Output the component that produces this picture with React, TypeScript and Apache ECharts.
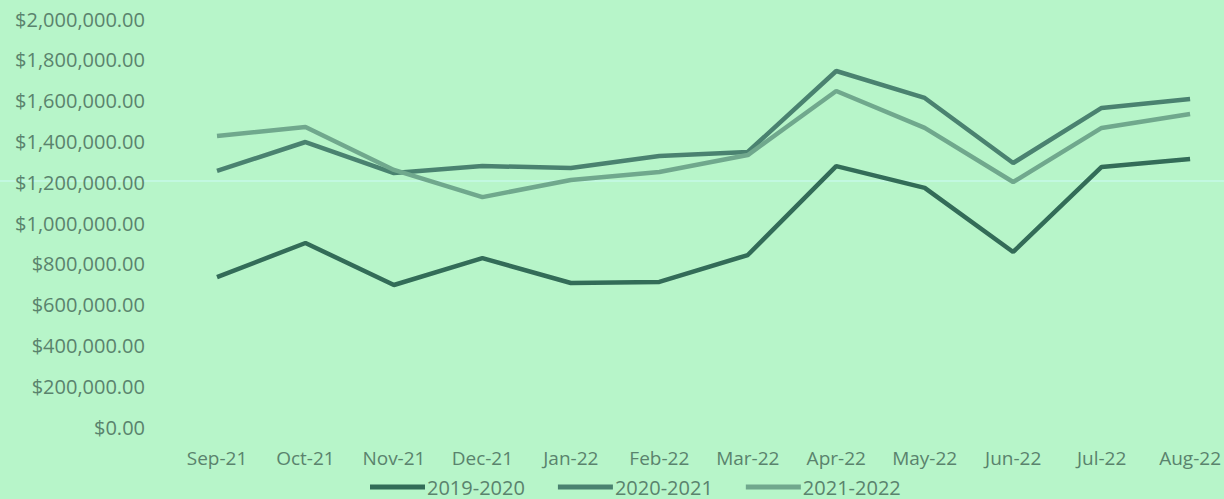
import React, { useEffect, useRef } from "react";
import * as echarts from "echarts";

const categories = ["Sep-21", "Oct-21", "Nov-21", "Dec-21", "Jan-22", "Feb-22", "Mar-22", "Apr-22", "May-22", "Jun-22", "Jul-22", "Aug-22"];
const series2019 = [735000, 902000, 696000, 828000, 706000, 711000, 843000, 1279000, 1172000, 858000, 1275000, 1314000];
const series2020 = [1255000, 1397000, 1245000, 1279000, 1270000, 1328000, 1348000, 1745000, 1613000, 1294000, 1564000, 1608000];
const series2021 = [1426000, 1471000, 1260000, 1127000, 1211000, 1250000, 1333000, 1647000, 1466000, 1201000, 1466000, 1534000];
const seriesNames = ["2019-2020", "2020-2021", "2021-2022"];

const fmt = (v: number) =>
  "$" + v.toLocaleString("en-US", { minimumFractionDigits: 2, maximumFractionDigits: 2 });

export default function App() {
  const ref = useRef<HTMLDivElement>(null);
  useEffect(() => {
    if (!ref.current) return;
    const chart = echarts.init(ref.current, undefined, { renderer: "svg" });
    const textColor = "#5a836d";
    const font = "'Open Sans', sans-serif";
    chart.setOption({
      animation: false,
      backgroundColor: "#b7f5c9",
      grid: { left: 217, right: 33, top: 19, bottom: 72, containLabel: false },
      legend: {
        left: 365,
        top: 472,
        itemWidth: 55,
        itemHeight: 5,
        itemGap: 33,
        icon: "rect",
        textStyle: { color: textColor, fontFamily: font, fontSize: 20, padding: [0, 0, 0, -3] },
        data: seriesNames,
      },
      xAxis: {
        type: "category",
        data: categories,
        boundaryGap: false,
        axisLine: { show: false },
        axisTick: { show: false },
        axisLabel: { color: textColor, fontFamily: font, fontSize: 19, margin: 21 },
        splitLine: { show: false },
      },
      yAxis: {
        type: "value",
        min: 0,
        max: 2000000,
        interval: 200000,
        axisLine: { show: false },
        axisTick: { show: false },
        splitLine: { show: false },
        axisLabel: { color: textColor, fontFamily: font, fontSize: 20, margin: 72, formatter: (v: number) => fmt(v) },
      },
      graphic: [
        {
          type: "line",
          shape: { x1: 0, y1: 181, x2: 1224, y2: 181 },
          style: { stroke: "#c2f8e0", lineWidth: 2 },
          silent: true,
          z: -1,
        },
      ],
      series: [
        {
          name: seriesNames[0],
          type: "line",
          data: series2019,
          symbol: "none",
          lineStyle: { width: 4.5, color: "#336c58" },
          itemStyle: { color: "#336c58" },
        },
        {
          name: seriesNames[1],
          type: "line",
          data: series2020,
          symbol: "none",
          lineStyle: { width: 4.5, color: "#4a8270" },
          itemStyle: { color: "#4a8270" },
        },
        {
          name: seriesNames[2],
          type: "line",
          data: series2021,
          symbol: "none",
          lineStyle: { width: 4.5, color: "#70a88d" },
          itemStyle: { color: "#70a88d" },
        },
      ],
    });
    return () => chart.dispose();
  }, []);
  return (
    <div
      ref={ref}
      style={{ position: "fixed", left: 0, top: 0, width: 1224, height: 499, background: "#b7f5c9" }}
    />
  );
}
